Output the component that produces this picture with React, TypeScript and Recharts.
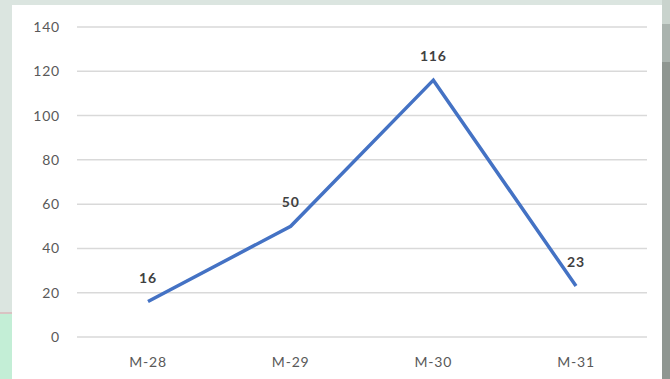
import React from "react";
import { LineChart, Line, XAxis, YAxis, CartesianGrid, LabelList } from "recharts";

const categories = ["M-28", "M-29", "M-30", "M-31"];
const values = [16, 50, 116, 23];
const yTicks = [0, 20, 40, 60, 80, 100, 120, 140];

const data = categories.map((c, i) => ({ name: c, value: values[i] }));

const FONT = "Lato, 'Open Sans', sans-serif";

export default function App() {
  return (
    <div style={{ position: "absolute", left: 0, top: 0, width: 670, height: 379, overflow: "hidden", background: "#dbe5e0" }}>
      <div style={{ position: "absolute", left: 0, top: 312, width: 12, height: 67, background: "#c3eed6", borderTop: "2px solid #d9c3c3" }} />
      <div style={{ position: "absolute", left: 662, top: 0, width: 8, height: 379, background: "#8f9691" }} />
      <div style={{ position: "absolute", left: 662, top: 0, width: 8, height: 62, background: "#aab3ae" }} />
      <div style={{ position: "absolute", left: 662, top: 0, width: 8, height: 24, background: "#c9d3cd" }} />
      <div style={{ position: "absolute", left: 12, top: 5, width: 650, height: 374, background: "#ffffff" }}>
        <LineChart width={650} height={374} data={data} margin={{ top: 22, right: 15, bottom: 0, left: 0 }}>
          <CartesianGrid vertical={false} stroke="#d9d9d9" strokeWidth={1.5} />
          <XAxis
            dataKey="name"
            axisLine={false}
            tickLine={false}
            tickMargin={14}
            height={42}
            padding={{ left: 71, right: 71 }}
            tick={{ fill: "#595959", fontSize: 14, fontFamily: FONT, letterSpacing: 0.8 }}
          />
          <YAxis
            domain={[0, 140]}
            ticks={yTicks}
            interval={0}
            axisLine={false}
            tickLine={false}
            width={65}
            tickMargin={11}
            tick={{ fill: "#595959", fontSize: 14, fontFamily: FONT, letterSpacing: 0.8 }}
          />
          <Line
            type="linear"
            dataKey="value"
            stroke="#4472c4"
            strokeWidth={3.5}
            dot={false}
            isAnimationActive={false}
          >
            <LabelList dataKey="value" position="top" offset={19} fill="#404040" fontSize={14} fontWeight="bold" fontFamily={FONT} letterSpacing={0.8} />
          </Line>
        </LineChart>
      </div>
    </div>
  );
}
